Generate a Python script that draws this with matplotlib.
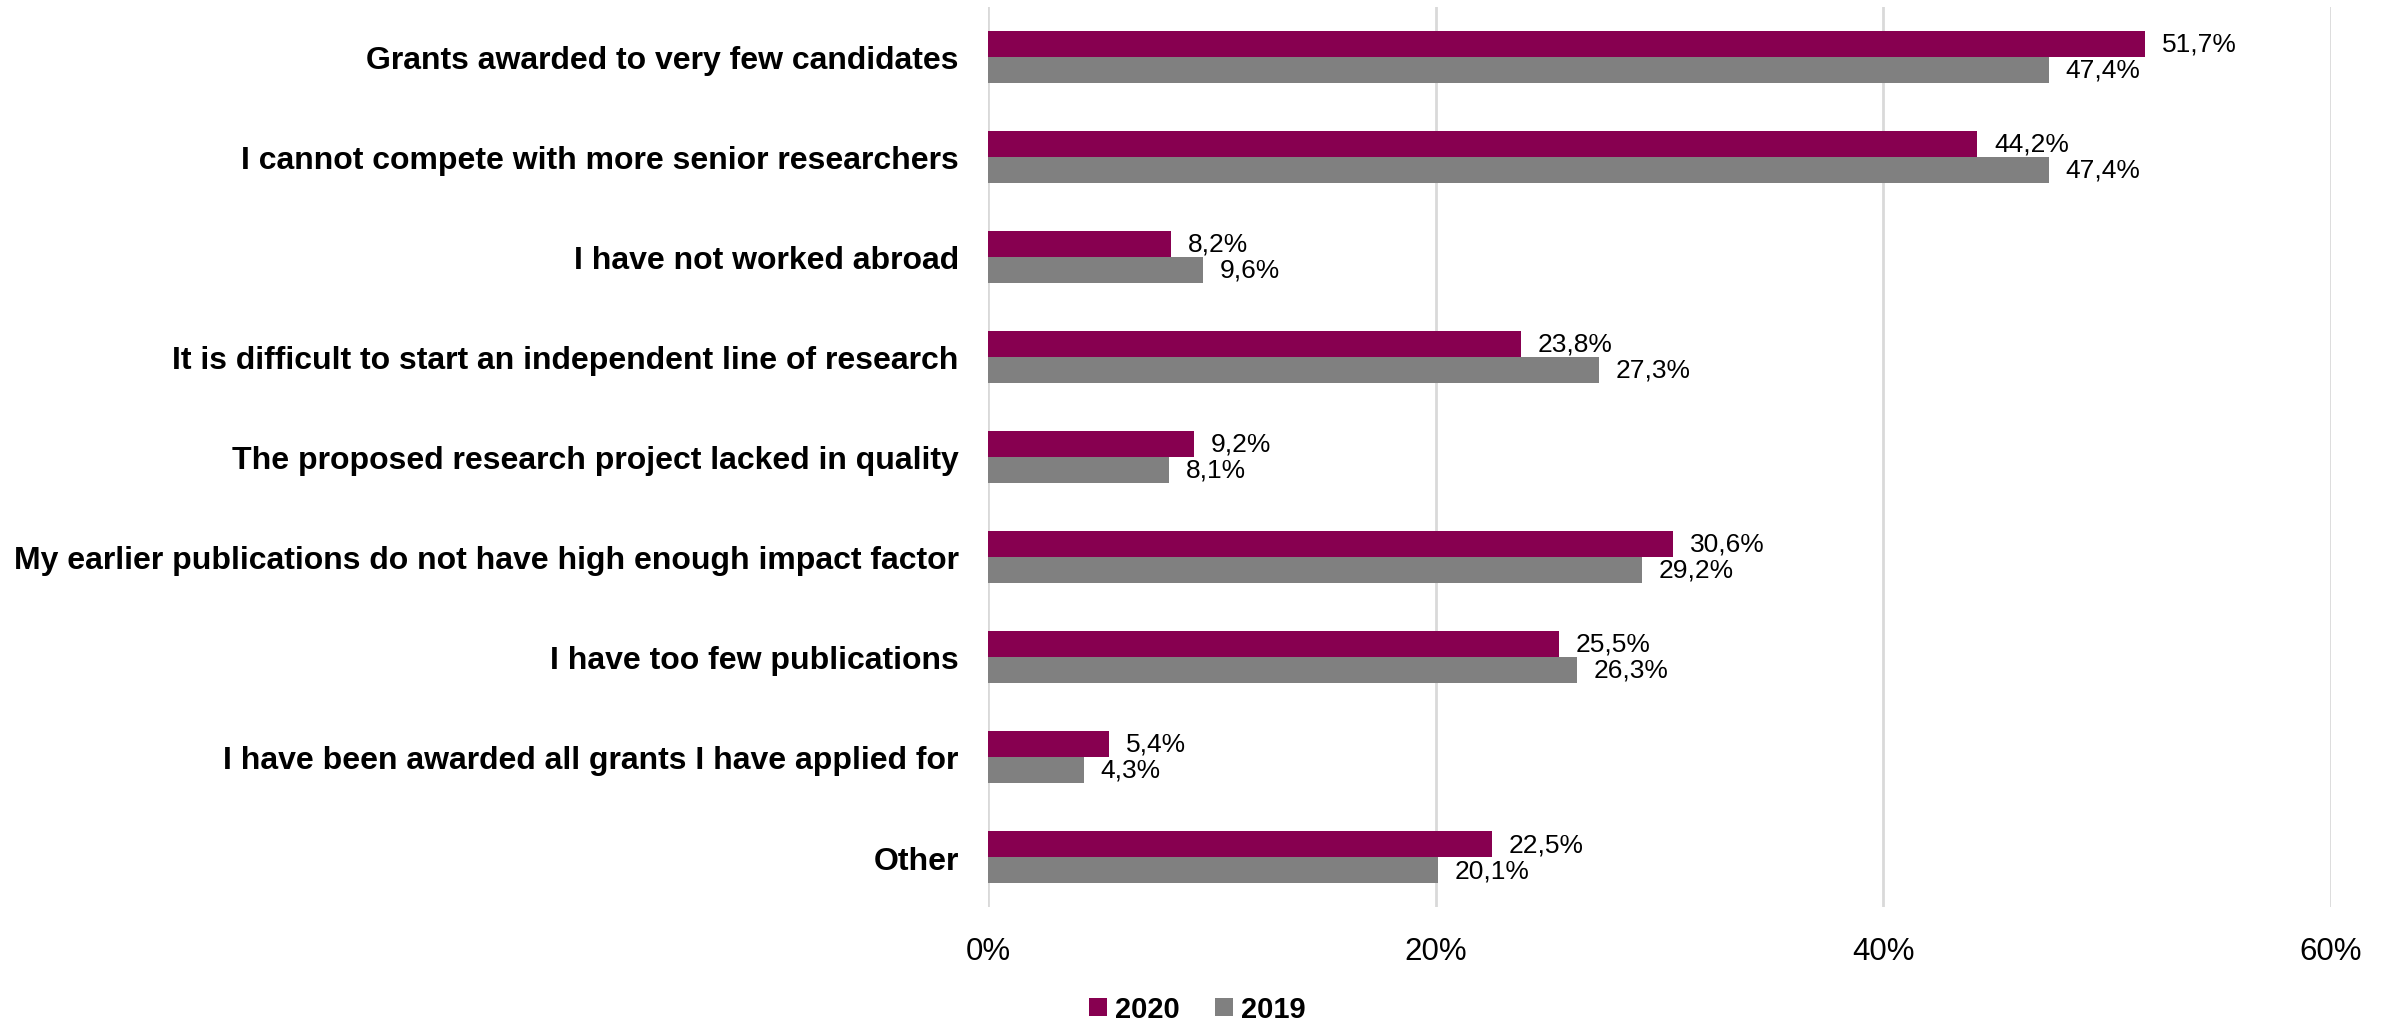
import numpy as np
import matplotlib
matplotlib.use('Agg')
import matplotlib.pyplot as plt

plt.rcParams['font.family'] = ['Liberation Sans', 'DejaVu Sans']

# --- data
reasons = ['Grants awarded to very few candidates',
           'I cannot compete with more senior researchers',
           'I have not worked abroad',
           'It is difficult to start an independent line of research',
           'The proposed research project lacked in quality',
           'My earlier publications do not have high enough impact factor',
           'I have too few publications',
           'I have been awarded all grants I have applied for',
           'Other']
pct_2020 = [51.7, 44.2, 8.2, 23.8, 9.2, 30.6, 25.5, 5.4, 22.5]
pct_2019 = [47.4, 47.4, 9.6, 27.3, 8.1, 29.2, 26.3, 4.3, 20.1]
xticks = [0, 20, 40, 60]

c2020 = '#870050'
c2019 = '#808080'

fig = plt.figure(figsize=(23.95, 10.2), dpi=100)
ax = fig.add_axes([0.4125, 0.1098, 0.5608, 0.8824])

y = np.arange(len(reasons))
h = 0.26
b1 = ax.barh(y - h/2, pct_2020, height=h, color=c2020, label='2020', zorder=3)
b2 = ax.barh(y + h/2, pct_2019, height=h, color=c2019, label='2019', zorder=3)

# value labels with decimal comma
for bars, vals in [(b1, pct_2020), (b2, pct_2019)]:
    for bar, v in zip(bars, vals):
        ax.annotate(f'{v:.1f}%'.replace('.', ','),
                    (v, bar.get_y() + bar.get_height()/2),
                    xytext=(12, 0), textcoords='offset points',
                    va='center', ha='left', fontsize=19, color='black')

ax.set_xlim(0, 60)
ax.set_ylim(len(reasons) - 0.5, -0.5)
ax.set_xticks(xticks)
ax.set_xticklabels([f'{t}%' for t in xticks], fontsize=22.5)
ax.set_yticks(y)
ax.set_yticklabels(reasons, fontsize=23, fontweight='bold')
ax.tick_params(axis='both', length=0)
ax.tick_params(axis='x', pad=21)
ax.tick_params(axis='y', pad=21)

ax.grid(axis='x', color='#d9d9d9', linewidth=2, zorder=0)
for s in ax.spines.values():
    s.set_visible(False)

fig.legend(handles=[b1, b2], labels=['2020', '2019'], loc='lower center',
           bbox_to_anchor=(0.5, -0.03), ncol=2, frameon=False,
           prop={'size': 21, 'weight': 'bold'},
           handlelength=0.6, handleheight=0.6, handletextpad=0.3,
           columnspacing=1.2)

fig.savefig('out.png', dpi=100)
